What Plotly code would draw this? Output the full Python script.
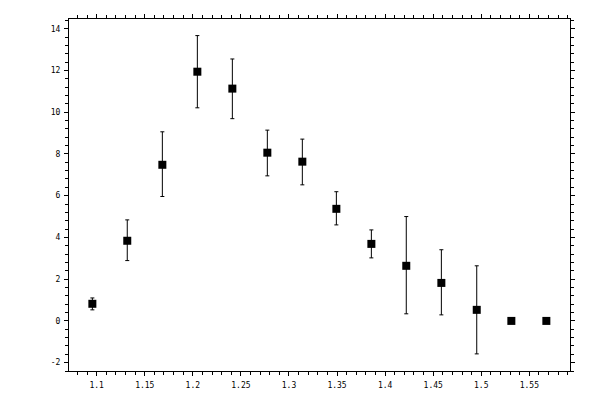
import plotly.graph_objects as go

# measured points (x, y) with asymmetric errors
X_VALUES = [1.0955, 1.1318, 1.1683, 1.2047, 1.2411, 1.2775, 1.3139,
            1.3493, 1.3857, 1.4220, 1.4585, 1.4953, 1.5313, 1.5677]
Y_VALUES = [0.82, 3.84, 7.48, 11.94, 11.13, 8.06, 7.63,
            5.37, 3.69, 2.64, 1.82, 0.53, 0.0, 0.0]
Y_UPPER = [1.10, 4.84, 9.06, 13.67, 12.55, 9.14, 8.71,
           6.19, 4.36, 5.00, 3.41, 2.64, 0.0, 0.0]
Y_LOWER = [0.53, 2.89, 5.96, 10.21, 9.69, 6.95, 6.52,
           4.60, 3.02, 0.34, 0.29, -1.58, 0.0, 0.0]

X_TICKS = [1.1, 1.15, 1.2, 1.25, 1.3, 1.35, 1.4, 1.45, 1.5, 1.55]
X_TICK_LABELS = ["1.1", "1.15", "1.2", "1.25", "1.3", "1.35", "1.4", "1.45", "1.5", "1.55"]
Y_TICKS = [-2, 0, 2, 4, 6, 8, 10, 12, 14]
Y_TICK_LABELS = ["-2", "0", "2", "4", "6", "8", "10", "12", "14"]

X_RANGE = [1.0712, 1.5923]
Y_RANGE = [-2.40, 14.465]

err_plus = [u - y for u, y in zip(Y_UPPER, Y_VALUES)]
err_minus = [y - lo for y, lo in zip(Y_VALUES, Y_LOWER)]

fig = go.Figure()
fig.add_trace(
    go.Scatter(
        x=X_VALUES,
        y=Y_VALUES,
        mode="markers",
        marker=dict(symbol="square", size=8, color="black", line=dict(width=0)),
        error_y=dict(
            type="data",
            symmetric=False,
            array=err_plus,
            arrayminus=err_minus,
            color="black",
            thickness=1,
            width=2,
        ),
        showlegend=False,
    )
)

tick_font = dict(family="DejaVu Sans Mono", size=8, color="black")

base_x = dict(
    range=X_RANGE,
    tickmode="array",
    tickvals=X_TICKS,
    ticktext=X_TICK_LABELS,
    showgrid=False,
    zeroline=False,
    tickcolor="black",
    tickwidth=1,
    automargin=False,
)
base_y = dict(
    range=Y_RANGE,
    tickmode="array",
    tickvals=Y_TICKS,
    ticktext=Y_TICK_LABELS,
    showgrid=False,
    zeroline=False,
    tickcolor="black",
    tickwidth=1,
    automargin=False,
)

# the page puts the figure 8px in from the top-left corner, margins allow for it
fig.update_layout(
    width=600,
    height=400,
    margin=dict(l=61, r=38, t=11, b=37),
    paper_bgcolor="white",
    plot_bgcolor="white",
    font=tick_font,
    xaxis=dict(
        **base_x,
        ticks="outside",
        ticklen=4,
        ticklabelstandoff=2,
        showline=True,
        linecolor="black",
        linewidth=1,
        mirror="allticks",
        tickfont=tick_font,
        minor=dict(dtick=0.01, tick0=1.0, ticks="outside", ticklen=3,
                   tickcolor="black", tickwidth=1, showgrid=False),
    ),
    yaxis=dict(
        **base_y,
        ticks="outside",
        ticklen=4,
        ticklabelstandoff=2,
        showline=True,
        linecolor="black",
        linewidth=1,
        mirror="allticks",
        tickfont=tick_font,
        minor=dict(dtick=0.4, tick0=0, ticks="outside", ticklen=3,
                   tickcolor="black", tickwidth=1, showgrid=False),
    ),
    # inner halves of the major ticks
    xaxis2=dict(
        **base_x,
        overlaying="x",
        anchor="y",
        matches="x",
        ticks="inside",
        ticklen=4,
        showticklabels=False,
        showline=False,
        mirror="allticks",
    ),
    yaxis2=dict(
        **base_y,
        overlaying="y",
        anchor="x",
        matches="y",
        ticks="inside",
        ticklen=4,
        showticklabels=False,
        showline=False,
        mirror="allticks",
    ),
)

fig.write_html("out.html")
